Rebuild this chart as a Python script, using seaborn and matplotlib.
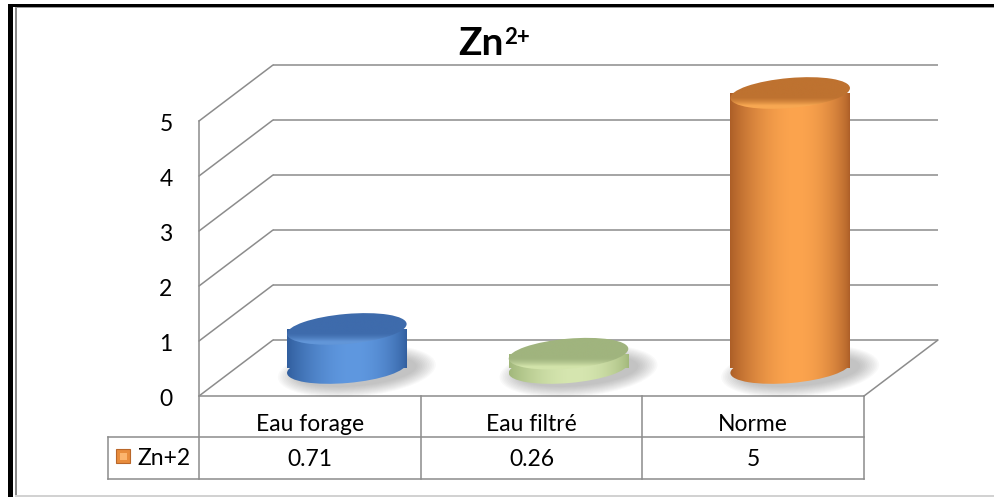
import numpy as np
import matplotlib
matplotlib.use("Agg")
import matplotlib.pyplot as plt
import matplotlib.transforms as mtransforms
from matplotlib.patches import Ellipse, Rectangle, ConnectionPatch
from matplotlib.colors import to_rgb
import seaborn as sns
import pandas as pd

# ---- data ----
categories = ["Eau forage", "Eau filtré", "Norme"]
values = [0.71, 0.26, 5]
value_labels = ["0.71", "0.26", "5"]
series_name = "Zn+2"
y_ticks = [0, 1, 2, 3, 4, 5]

# ---- cylinder colours (edge of body, bright middle, top face, top rim) ----
body_edge = ["#315E9E", "#A1B77A", "#AC5E27"]
body_mid = ["#5F98E0", "#D6E6B0", "#FCA44E"]
top_face = ["#3E6BAC", "#A0B47E", "#BE7230"]
top_rim = ["#6296D8", "#D2E3AA", "#F8A852"]

sns.set_theme(style="white")
plt.rcParams["font.family"] = ["Lato", "DejaVu Sans"]

DPI = 100
W, H = 995, 497
fig = plt.figure(figsize=(W / DPI, H / DPI), dpi=DPI)
fig.patch.set_facecolor("white")

# mid-depth plane geometry (pixels)
X_UNIT = 221.67
Y_UNIT = 55.0
X0_PX = 236.0   # x = -0.5
Y0_PX = 368.0   # value 0, measured from top
xlim = (-1.2, 2.9)
ylim = (-2.3, 5.8)
left_px = X0_PX + (xlim[0] + 0.5) * X_UNIT
right_px = X0_PX + (xlim[1] + 0.5) * X_UNIT
bot_px = Y0_PX - ylim[0] * Y_UNIT
top_px = Y0_PX - ylim[1] * Y_UNIT
ax = fig.add_axes([left_px / W, 1 - bot_px / H,
                   (right_px - left_px) / W, (bot_px - top_px) / H])

df = pd.DataFrame({"categorie": categories, "valeur": values})
sns.barplot(data=df, x="categorie", y="valeur", hue="categorie",
            palette=body_edge, width=0.541, linewidth=0, legend=False,
            ax=ax, zorder=5)
ax.set_autoscale_on(False)
ax.set_xlim(xlim)
ax.set_ylim(ylim)
ax.axis("off")

# depth offsets: back wall and front face of the 3-D box
DX, DY = 37 / DPI, 28 / DPI
back = ax.transData + mtransforms.ScaledTranslation(DX, DY, fig.dpi_scale_trans)
front = ax.transData + mtransforms.ScaledTranslation(-DX, -DY, fig.dpi_scale_trans)

GRID = "#8C8C8C"
LW = 1.1
FS = 16.5
for v in y_ticks:
    ax.plot([-0.5, 2.5], [v, v], color=GRID, lw=LW, transform=back,
            clip_on=False, zorder=1, solid_capstyle="butt")
    cp = ConnectionPatch((-0.5, v), (-0.5, v), coordsA=front, coordsB=back,
                         color=GRID, lw=LW, zorder=1)
    cp.set_clip_on(False)
    ax.add_artist(cp)
    ax.annotate(str(v), xy=(-0.5, v), xycoords=front, xytext=(-19, -2.5),
                textcoords="offset points", ha="right", va="center",
                fontsize=FS, color="black")

# floor right edge
cp = ConnectionPatch((2.5, 0), (2.5, 0), coordsA=front, coordsB=back,
                     color=GRID, lw=LW, zorder=1)
ax.add_artist(cp)

# data table below the plot
ROW1 = -41 / Y_UNIT
ROW2 = -83 / Y_UNIT
LEG_X = -0.5 - 91 / X_UNIT
TBL = dict(color=GRID, lw=LW, transform=front, clip_on=False, zorder=2,
           solid_capstyle="projecting")
ax.plot([-0.5, 2.5], [0, 0], **TBL)
ax.plot([-0.5, -0.5], [ROW2, 5], **TBL)
ax.plot([LEG_X, 2.5], [ROW1, ROW1], **TBL)
ax.plot([LEG_X, 2.5], [ROW2, ROW2], **TBL)
ax.plot([LEG_X, LEG_X], [ROW1, ROW2], **TBL)
for xb in [0.5, 1.5, 2.5]:
    ax.plot([xb, xb], [ROW2, 0], **TBL)

for i, (cat, lab) in enumerate(zip(categories, value_labels)):
    ax.text(i, -35 / Y_UNIT, cat, transform=front, ha="center", va="baseline",
            fontsize=FS, color="black")
    ax.text(i, -70 / Y_UNIT, lab, transform=front, ha="center", va="baseline",
            fontsize=FS, color="black")

# legend key in the table
kx = -0.5 + (116 - 199) / X_UNIT
ky = -(462 - 395) / Y_UNIT
ax.add_patch(Rectangle((kx, ky), 14 / X_UNIT, 14 / Y_UNIT, transform=front,
                       facecolor="#E88C3C", edgecolor="#B9672A", lw=0.8,
                       clip_on=False, zorder=3))
ax.add_patch(Rectangle((kx + 3.5 / X_UNIT, ky + 3.5 / Y_UNIT), 7 / X_UNIT, 7 / Y_UNIT,
                       transform=front, facecolor="#FCB56E", lw=0,
                       clip_on=False, zorder=3))
ax.text(-0.5 + (137 - 199) / X_UNIT, -69 / Y_UNIT, series_name, transform=front,
        ha="left", va="baseline", fontsize=FS, color="black")

# ---- cylinders ----
EW_PX, EH_PX, ANG = 120, 30, 5
EW, EH = EW_PX / DPI, EH_PX / DPI


def at(x, y):
    return fig.dpi_scale_trans + mtransforms.ScaledTranslation(x, y, ax.transData)


t = np.linspace(0, 1, 256)
prof = np.sin(np.pi * t ** 1.16) ** 0.75

# vertical profile of the top face: 0 at the back, 1 at the front rim
s = np.linspace(0, 1, 128)
rim = np.clip((s - 0.62) / 0.25, 0, 1) ** 1.5

for i, bar in enumerate(ax.patches[:len(values)]):
    x0, w, v = bar.get_x(), bar.get_width(), bar.get_height()
    cx = x0 + w / 2

    # soft shadow on the floor
    for k in range(12):
        f = k / 11
        sh = Ellipse((10 / DPI, -3 / DPI), EW * (1.0 + 0.32 * f), EH * (1.0 + 0.7 * f),
                     angle=ANG, transform=at(cx, 0), facecolor="#606060",
                     edgecolor="none", alpha=0.035, zorder=3)
        ax.add_patch(sh)

    e0, e1 = np.array(to_rgb(body_edge[i])), np.array(to_rgb(body_mid[i]))
    grad = (e0[None, :] + (e1 - e0)[None, :] * prof[:, None])[None, :, :]

    base = Ellipse((0, 0), EW, EH, angle=ANG, transform=at(cx, 0),
                   facecolor="none", edgecolor="none", zorder=4)
    ax.add_patch(base)
    for clip in (bar, base):
        im = ax.imshow(grad, extent=(x0, x0 + w, -0.8, v), aspect="auto",
                       interpolation="bilinear", zorder=6)
        im.set_clip_path(clip)

    # top face with a lighter bevel along its front edge
    tf = Ellipse((0, 0), EW, EH, angle=ANG, transform=at(cx, v),
                 facecolor="none", edgecolor="none", zorder=7)
    ax.add_patch(tf)
    c0, c1 = np.array(to_rgb(top_face[i])), np.array(to_rgb(top_rim[i]))
    tgrad = (c0[None, :] + (c1 - c0)[None, :] * rim[:, None])[:, None, :]
    hy = 17 / Y_UNIT
    im = ax.imshow(tgrad, extent=(x0 - 0.05, x0 + w + 0.05, v - hy, v + hy),
                   aspect="auto", interpolation="bilinear", origin="upper",
                   zorder=8)
    im.set_clip_path(tf)

ax.set_xlim(xlim)
ax.set_ylim(ylim)

# ---- title ----
zn = fig.text(458 / W, 1 - 55 / H, "Zn", fontsize=28, fontweight="bold",
              ha="left", va="baseline", color="black")
plt.annotate("2+", xy=(1, 1), xycoords=zn, xytext=(0.5, -0.5),
             textcoords="offset points", ha="left", va="top",
             fontsize=16, fontweight="bold", color="black",
             annotation_clip=False)

# ---- outer frame ----
fig.add_artist(Rectangle((8 / W, 0), 4.5 / W, 1 - 4.3 / H,
                         transform=fig.transFigure, color="black", lw=0))
fig.add_artist(Rectangle((8 / W, 1 - 6.7 / H), 1, 2.4 / H,
                         transform=fig.transFigure, color="black", lw=0))
fig.add_artist(Rectangle((15 / W, 0), 1.5 / W, 1 - 6.7 / H,
                         transform=fig.transFigure, color="#8A8A8A", lw=0))
fig.add_artist(Rectangle((15 / W, 1 - 8 / H), 1, 1.3 / H,
                         transform=fig.transFigure, color="#9A9A9A", lw=0))
fig.add_artist(Rectangle((15 / W, 0.5 / H), 1, 1.5 / H,
                         transform=fig.transFigure, color="#D2D2D2", lw=0))

fig.savefig("out.png", dpi=DPI, facecolor="white")
